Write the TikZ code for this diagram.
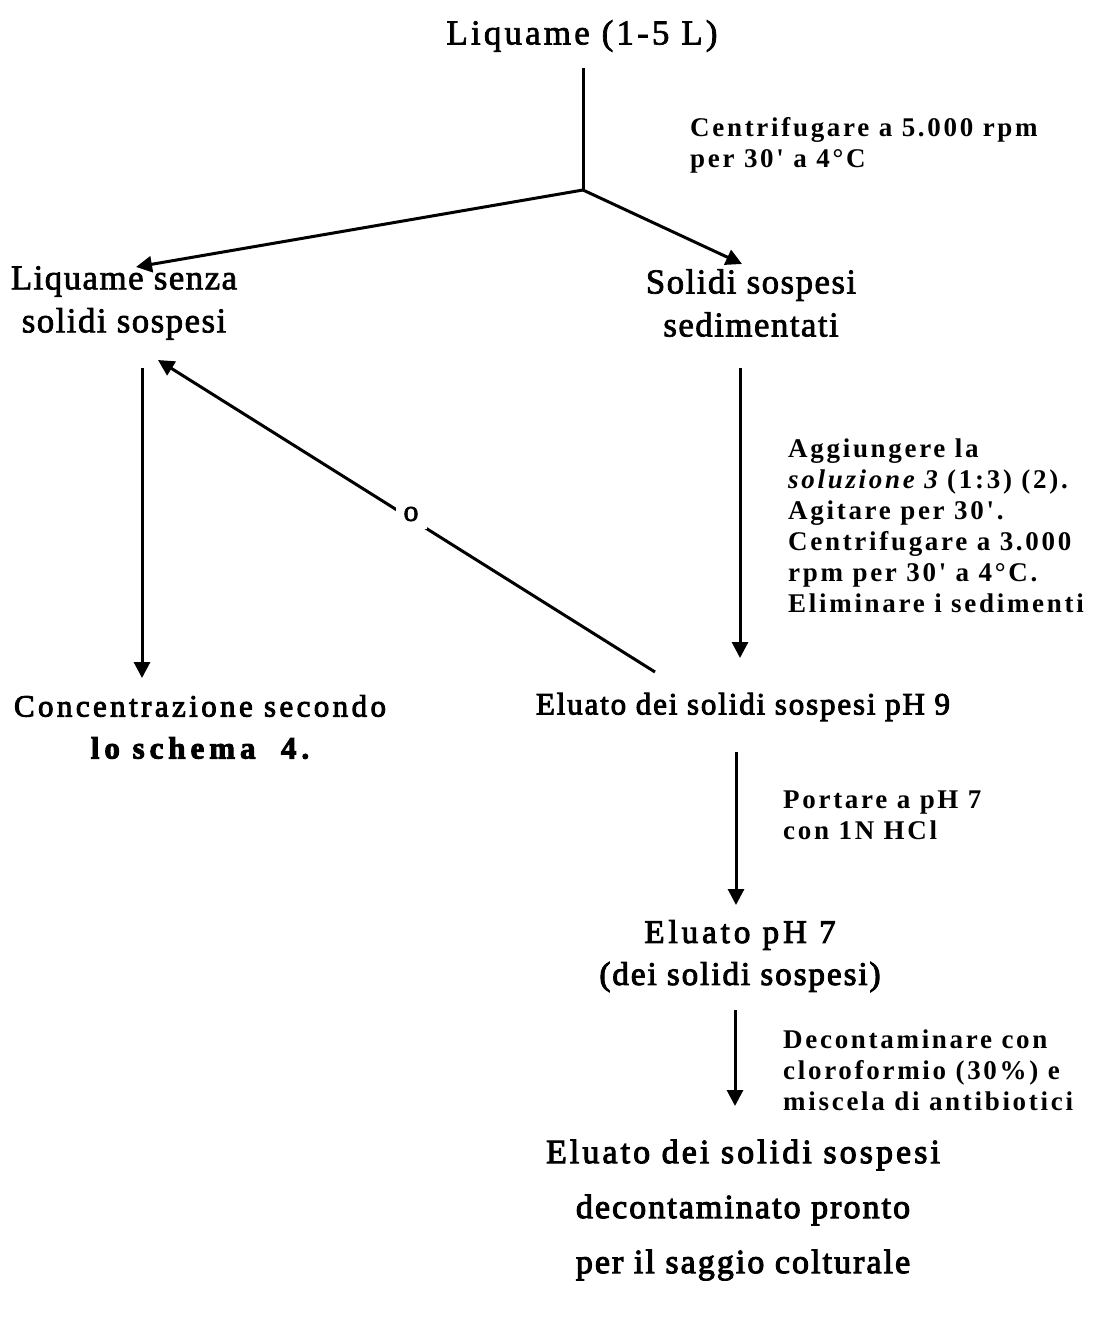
\documentclass[tikz,border=0pt]{standalone}
\usepackage{fontspec}
\setmainfont{Liberation Serif}
\newfontfamily\headfont[LetterSpace=4,FakeBold=2]{Liberation Serif}
\newfontfamily\stepfont[LetterSpace=6,FakeBold=3]{Liberation Serif}
\newfontfamily\notefont[LetterSpace=10]{Liberation Serif}
\usetikzlibrary{arrows.meta}

\begin{document}
\begin{tikzpicture}[x=1pt,y=-1pt,
  flow/.style={inner sep=0pt, align=center},
  upper/.style={flow, font=\headfont\fontsize{35}{43}\selectfont},
  lower/.style={flow, font=\stepfont\fontsize{31}{42}\selectfont},
  note/.style={inner sep=0pt, align=left, anchor=west,
               font=\notefont\bfseries\fontsize{27}{31}\selectfont},
  link/.style={line width=3pt, -{Triangle[length=16pt,width=16pt]}},
  bare/.style={line width=3pt}
]
\useasboundingbox (0,0) rectangle (1103,1340);

% --- steps of the procedure
\node[upper] (sample) at (582,36) {\addfontfeature{LetterSpace=9}Liquame (1-5 L)};
\node[upper] (liquid) at (124,303) {Liquame senza\\solidi sospesi};
\node[upper] (solids) at (751,303) {Solidi sospesi\\sedimentati};
\node[lower] (conc) at (200,727)
  {\addfontfeature{LetterSpace=11}Concentrazione secondo\\
   {\addfontfeature{LetterSpace=16}\bfseries lo schema\ \ 4.}};
\node[lower] (eluate9) at (743,707) {Eluato dei solidi sospesi pH 9};
\node[lower, font=\stepfont\fontsize{33}{42}\selectfont] (eluate7) at (740,956)
  {\addfontfeature{LetterSpace=12}Eluato pH 7\\(dei solidi sospesi)};
\node[lower, font=\stepfont\fontsize{34}{55}\selectfont] (final) at (743,1210)
  {\addfontfeature{LetterSpace=9}Eluato dei solidi sospesi\\decontaminato pronto\\per il saggio colturale};

% --- operating notes beside the arrows
\node[note] (spin) at (690,145) {Centrifugare a 5.000 rpm\\per 30' a 4°C};
\node[note] (elute) at (788,526) {Aggiungere la\\{\itshape soluzione 3} (1:3) (2).\\Agitare per 30'.\\Centrifugare a 3.000\\rpm per 30' a 4°C.\\Eliminare i sedimenti};
\node[note] (neutral) at (783,815) {Portare a pH 7\\con 1N HCl};
\node[note] (decon) at (783,1070) {Decontaminare con\\cloroformio (30\%) e\\miscela di antibiotici};

% --- connector end points
\coordinate (stemtop) at (583,68);
\coordinate (split) at (583,190);
\coordinate (liqtip) at (136,267);
\coordinate (soltip) at (742,264);
\coordinate (downAtop) at (142,368);
\coordinate (downAend) at (142,678);
\coordinate (backstart) at (655,672);
\coordinate (backtip) at (158,360);
\coordinate (downBtop) at (740,368);
\coordinate (downBend) at (740,658);
\coordinate (downCtop) at (736,752);
\coordinate (downCend) at (736,905);
\coordinate (downDtop) at (735,1010);
\coordinate (downDend) at (735,1106);

% --- connectors
\draw[bare] (stemtop) -- (split);
\draw[link] (split) -- (liqtip);
\draw[link] (split) -- (soltip);
\draw[link] (downAtop) -- (downAend);
\draw[link] (backstart) -- (backtip);
\node[fill=white, inner sep=8pt, font=\headfont\fontsize{30}{31}\selectfont] (alt) at (411,514) {o};
\draw[link] (downBtop) -- (downBend);
\draw[link] (downCtop) -- (downCend);
\draw[link] (downDtop) -- (downDend);
\end{tikzpicture}
\end{document}
